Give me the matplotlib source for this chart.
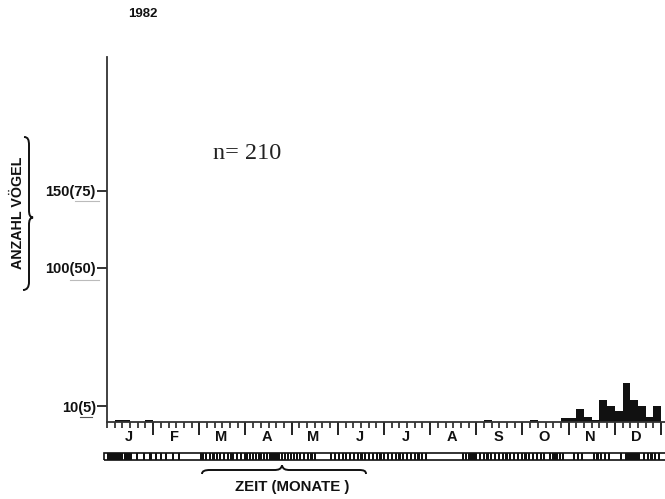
import matplotlib
matplotlib.use("Agg")
import matplotlib.pyplot as plt
from matplotlib.path import Path
from matplotlib.patches import PathPatch, Rectangle
import matplotlib.transforms as mtransforms
import numpy as np

# ---------------- data ----------------
year_label = "1982"
n_label = "n= 210"
month_letters = ["J", "F", "M", "A", "M", "J", "J", "A", "S", "O", "N", "D"]
ytick_vals = [10, 100, 150]
ytick_labels = ["10(5)", "100(50)", "150(75)"]
y_label = "ANZAHL VÖGEL"
x_label = "ZEIT (MONATE )"

# pentads (0..71, six per month) with birds counted
pentad_idx = [1, 2, 5, 49, 55, 59, 60, 61, 62, 63, 64, 65, 66, 67, 68, 69, 70, 71]
pentad_birds = [1, 1, 1, 1, 1, 2, 2, 8, 3, 1, 14, 10, 7, 25, 14, 10, 3, 10]

# observation days (day of year, length in days) for the strip below the axis
obs_start = [0, 5.5, 11, 19, 23.5, 28, 31.5, 35, 38, 42.5, 46.5,
             61, 62.5, 64.5, 67, 69.5, 72, 74, 76.5, 79, 81, 82.5, 85, 87.5, 90, 91.5,
             93.5, 95.5, 97.5, 99.5, 101, 103, 105, 107, 109, 111, 112.5, 114.5, 116.5,
             118.5, 120.5, 122.5, 124.5, 126.5, 129, 131.5, 134, 136.5,
             147, 149.5, 152, 154.5, 157, 159.5, 162, 164.5, 167, 169.5, 172, 174.5, 177,
             179.5, 182, 184.5, 187, 189.5, 192, 194.5, 197, 199.5, 202, 204.5, 207, 209.5,
             234, 236, 238, 245, 247.5, 250, 252.5, 255, 257.5, 260, 262.5, 265, 267.5, 270,
             272.5, 275, 277.5, 280, 282.5, 285, 287,
             291, 293, 298, 300, 307, 309.5, 312, 320, 322.5, 325, 327.5, 330,
             338, 341, 353, 355.5, 358, 360.5, 363]
obs_len = [5, 5, 5.5, 1.4, 1.4, 1.4, 1.4, 1.4, 1.4, 1.4, 1.4,
           1.4, 1.4, 1.4, 1.4, 1.4, 1.4, 1.4, 1.4, 1.4, 1.4, 1.4, 1.4, 1.4, 1.4, 1.4,
           1.4, 1.4, 1.4, 1.4, 1.4, 1.4, 1.4, 1.4, 1.4, 1.4, 1.4, 1.4, 1.4,
           1.4, 1.4, 1.4, 1.4, 1.4, 1.4, 1.4, 1.4, 1.4,
           1.4, 1.4, 1.4, 1.4, 1.4, 1.4, 1.4, 1.4, 1.4, 1.4, 1.4, 1.4, 1.4,
           1.4, 1.4, 1.4, 1.4, 1.4, 1.4, 1.4, 1.4, 1.4, 1.4, 1.4, 1.4, 1.4,
           1.4, 1.4, 6, 1.4, 1.4, 1.4, 1.4, 1.4, 1.4, 1.4, 1.4, 1.4, 1.4, 1.4,
           1.4, 1.4, 1.4, 1.4, 1.4, 1.4, 1.4,
           1.4, 4, 1.4, 1.4, 1.4, 1.4, 1.4, 1.4, 1.4, 1.4, 1.4, 1.4,
           1.5, 10, 1.4, 1.4, 1.4, 1.4, 1.4]

# ---------------- layout ----------------
W, H = 665, 499
fig = plt.figure(figsize=(W / 100, H / 100), dpi=100)
fig.patch.set_facecolor("white")


def fx(px):
    return px / W


def fy(py):
    return 1 - py / H


BOLD = dict(family=["Liberation Sans", "DejaVu Sans"], fontweight="bold")
INK = "#111111"

MPX = 554 / 12.0          # pixels per month
x0, y0 = 107, 421.5       # axis origin (pixels)
ytop = 57
PXU = 1.54                # pixels per bird

ax = fig.add_axes([fx(x0), fy(y0), fx(W) - fx(x0), fy(ytop) - fy(y0)])
ax.set_xlim(0, (W - x0) / MPX)
ax.set_ylim(0, (y0 - ytop) / PXU)
ax.patch.set_alpha(0)
for s in ["top", "right"]:
    ax.spines[s].set_visible(False)
for s in ["left", "bottom"]:
    ax.spines[s].set_linewidth(1.3)
    ax.spines[s].set_color("#333333")

ax.bar(np.array(pentad_idx) / 6.0, pentad_birds, width=1 / 6.0, align="edge",
       color=INK, linewidth=0)

# y ticks
ax.set_yticks(ytick_vals)
ax.set_yticklabels(ytick_labels, fontsize=10.5, **BOLD)
ax.tick_params(axis="y", direction="out", length=7, width=1.2, pad=1, colors=INK)

# x ticks: month boundaries long, pentads short
ax.set_xticks(np.arange(1, 13))
ax.set_xticklabels([])
ax.set_xticks(np.arange(0, 73) / 6.0, minor=True)
ax.tick_params(axis="x", which="major", direction="out", length=9, width=1.3, colors=INK)
ax.tick_params(axis="x", which="minor", direction="out", length=4.5, width=1.1, colors=INK)

trans = mtransforms.blended_transform_factory(ax.transData, fig.transFigure)
for i, m in enumerate(month_letters):
    ax.text(i + 0.47, fy(437), m, transform=trans, ha="center", va="center",
            fontsize=10.5, color=INK, **BOLD)

# faint pencil marks under the tick labels
for (xa, xb, yy, c) in [(75, 99, 201, "#bbbbbb"), (70, 99, 280, "#bbbbbb"), (80, 92, 417, "#555555")]:
    fig.add_artist(plt.Line2D([fx(xa), fx(xb)], [fy(yy), fy(yy)], color=c, lw=0.8,
                              transform=fig.transFigure))

# ---------------- observation strip ----------------
ax2 = fig.add_axes([fx(103), fy(459.5), fx(W) - fx(103), fy(452.5) - fy(459.5)])
ax2.set_xlim(-4 / MPX, (W - x0) / MPX)
ax2.set_ylim(0, 1)
ax2.axis("off")
ax2.add_patch(Rectangle((-3.5 / MPX, 0), (W - x0 + 10) / MPX, 1, fill=False,
                        edgecolor=INK, lw=1.2, clip_on=False))
segs = [(s * 12 / 365.0, l * 12 / 365.0) for s, l in zip(obs_start, obs_len)]
ax2.broken_barh(segs, (0, 1), facecolors=INK, linewidth=0)

# ---------------- texts ----------------
fig.text(fx(143), fy(14), year_label, ha="center", va="center", fontsize=9.5, color=INK, **BOLD)
fig.text(fx(213), fy(159), n_label, ha="left", va="baseline", fontsize=17.5,
         family=["Liberation Serif", "DejaVu Serif"], color="#222222")
fig.text(fx(18), fy(213), y_label, ha="center", va="center", rotation=90,
         fontsize=10.3, color=INK, **BOLD)
fig.text(fx(292), fy(487), x_label, ha="center", va="center", fontsize=10.8, color=INK, **BOLD)


# ---------------- braces ----------------
def add_path(pts, codes):
    verts = [(fx(a), fy(b)) for a, b in pts]
    p = PathPatch(Path(verts, codes), transform=fig.transFigure, fill=False,
                  edgecolor=INK, lw=1.4)
    fig.add_artist(p)


M, L, C = Path.MOVETO, Path.LINETO, Path.CURVE4
# vertical brace next to y label (tip pointing right)
add_path([(24, 137), (28, 137), (29, 140), (29, 145),
          (29, 210), (29, 215), (30, 217), (33, 217.5),
          (30, 218), (29, 220), (29, 225),
          (29, 282), (29, 287), (27, 290), (23, 290)],
         [M, C, C, C, L, C, C, C, C, C, C, L, C, C, C])
# horizontal brace above x label (tip pointing up)
add_path([(202, 474), (202, 471), (205, 470), (210, 470),
          (274, 470), (279, 470), (281, 469), (282, 465.5),
          (283, 469), (285, 470), (290, 470),
          (359, 470), (364, 470), (366, 471), (366, 474)],
         [M, C, C, C, L, C, C, C, C, C, C, L, C, C, C])

fig.savefig("out.png", dpi=100, facecolor="white")
